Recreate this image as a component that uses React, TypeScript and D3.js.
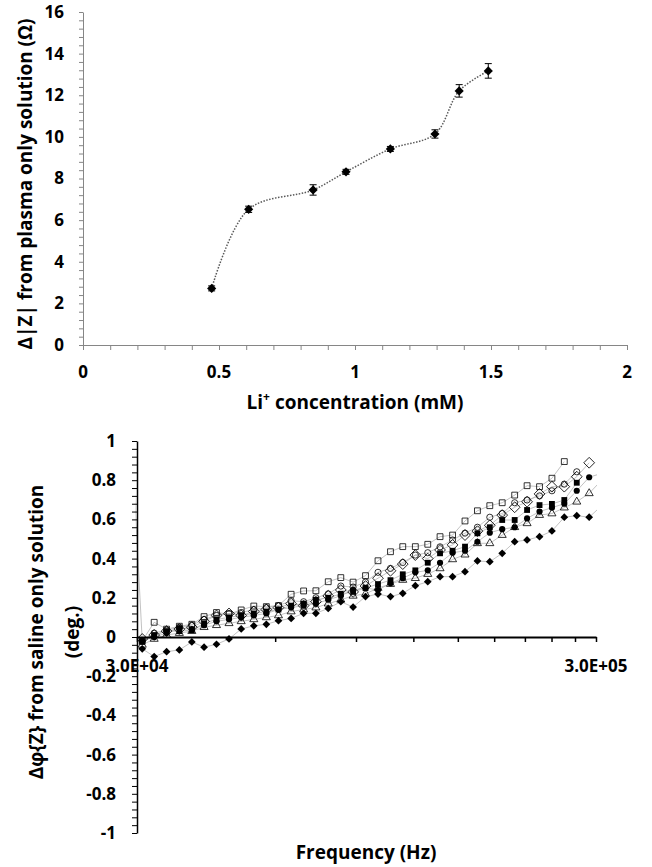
import React, { useEffect, useRef } from 'react';
import * as d3 from 'd3';

// top chart: impedance change vs Li+ concentration
const liConc = [0.473, 0.609, 0.846, 0.967, 1.13, 1.294, 1.383, 1.49];
const deltaZ = [2.72, 6.52, 7.45, 8.32, 9.42, 10.14, 12.21, 13.17];
const deltaZErr = [0.12, 0.15, 0.25, 0.12, 0.12, 0.2, 0.3, 0.35];
const concTicks = [0, 0.5, 1, 1.5, 2];
const zTicks = [0, 2, 4, 6, 8, 10, 12, 14, 16];

// bottom chart: phase change vs frequency (first and last frequency fall outside the axis)
const freqHz = [
  29000, 30800, 32700, 34800, 37100, 39500, 42000, 44700, 47600, 50600, 53900, 57400, 61000,
  65000, 69200, 73600, 78300, 83400, 88700, 94400, 100500, 107000, 113800, 121200, 129000,
  137200, 146100, 155500, 165500, 176100, 187400, 199500, 212300, 226000, 240500, 255900,
  272400, 289900, 308600,
];
const phaseOpenSquare = [
  1.15, -0.02, 0.075, 0.04, 0.055, 0.065, 0.104, 0.125, 0.117, 0.138, 0.158, 0.155, 0.16, 0.218,
  0.235, 0.236, 0.282, 0.303, 0.28, 0.313, 0.389, 0.435, 0.461, 0.461, 0.473, 0.512, 0.52, 0.592,
  0.644, 0.67, 0.685, 0.724, 0.772, 0.767, 0.81, 0.895, null, null, null,
];
const phaseOpenDiamond = [
  null, -0.01, 0.01, 0.03, 0.04, 0.05, 0.08, 0.11, 0.12, 0.11, 0.13, 0.14, 0.15, 0.17, 0.16, 0.18,
  0.21, 0.24, 0.23, 0.26, 0.3, 0.338, 0.372, 0.418, 0.4, 0.444, 0.47, 0.52, 0.54, 0.57, 0.622,
  0.662, 0.69, 0.73, 0.767, 0.767, 0.818, 0.889, null,
];
const phaseOpenCircle = [
  null, -0.02, 0.02, 0.035, 0.05, 0.06, 0.09, 0.11, 0.12, 0.125, 0.14, 0.15, 0.16, 0.185, 0.18,
  0.2, 0.22, 0.26, 0.255, 0.28, 0.33, 0.35, 0.38, 0.418, 0.43, 0.46, 0.495, 0.53, 0.56, 0.611,
  0.63, 0.685, 0.699, 0.72, 0.746, 0.78, 0.843, null, null,
];
const phaseFilledCircle = [
  null, -0.02, 0.0, 0.02, 0.045, 0.04, 0.06, 0.08, 0.09, 0.1, 0.11, 0.12, 0.14, 0.15, 0.16, 0.17,
  0.19, 0.21, 0.24, 0.25, 0.24, 0.274, 0.3, 0.33, 0.34, 0.379, 0.43, 0.44, 0.486, 0.532, 0.55,
  0.56, 0.605, 0.64, 0.66, 0.68, 0.746, 0.815, 0.835,
];
const phaseFilledSquare = [
  null, -0.025, 0.01, 0.03, 0.03, 0.035, 0.07, 0.09, 0.1, 0.11, 0.12, 0.13, 0.14, 0.16, 0.17, 0.19,
  0.2, 0.22, 0.23, 0.25, 0.27, 0.29, 0.32, 0.34, 0.379, 0.427, 0.44, 0.461, 0.529, 0.56, 0.597,
  0.597, 0.648, 0.673, 0.679, 0.699, 0.787, null, null,
];
const phaseOpenTriangle = [
  null, -0.04, -0.01, 0.01, 0.02, 0.03, 0.05, 0.06, 0.07, 0.08, 0.09, 0.1, 0.11, 0.13, 0.14, 0.15,
  0.17, 0.19, 0.21, 0.22, 0.25, 0.27, 0.291, 0.3, 0.321, 0.35, 0.396, 0.42, 0.478, 0.478, 0.52,
  0.56, 0.58, 0.622, 0.63, 0.66, 0.69, 0.733, 0.8,
];
const phaseFilledDiamond = [
  null, -0.06, -0.1, -0.075, -0.066, -0.025, -0.052, -0.037, -0.01, 0.041, 0.057, 0.065, 0.083,
  0.095, 0.121, 0.121, 0.146, 0.18, 0.153, 0.206, 0.219, 0.206, 0.223, 0.262, 0.282, 0.308, 0.308,
  0.333, 0.388, 0.384, 0.427, 0.486, 0.495, 0.512, 0.541, 0.611, 0.619, 0.611, 0.67,
];
const phaseTicks = [-1, -0.8, -0.6, -0.4, -0.2, 0, 0.2, 0.4, 0.6, 0.8, 1];
const freqLabelTicks = [3e4, 3e5];

const FONT = '"Open Sans", sans-serif';
const TICK_SIZE = 17;
const TITLE_SIZE = 19;

type Series = { values: (number | null)[]; shape: 'square' | 'diamond' | 'circle' | 'triangle'; filled: boolean; size: number };

const phaseSeries: Series[] = [
  { values: phaseOpenSquare, shape: 'square', filled: false, size: 34 },
  { values: phaseOpenTriangle, shape: 'triangle', filled: false, size: 28 },
  { values: phaseFilledDiamond, shape: 'diamond', filled: true, size: 30 },
  { values: phaseFilledSquare, shape: 'square', filled: true, size: 34 },
  { values: phaseFilledCircle, shape: 'circle', filled: true, size: 30 },
  { values: phaseOpenCircle, shape: 'circle', filled: false, size: 30 },
  { values: phaseOpenDiamond, shape: 'diamond', filled: false, size: 58 },
];

const App = () => {
  const chartRef = useRef<SVGSVGElement>(null);

  useEffect(() => {
    if (!chartRef.current) return;
    const svg = d3.select(chartRef.current);
    svg.selectAll('*').remove();

    // ---------- top chart ----------
    const x1 = d3.scaleLinear().domain([0, 2]).range([83, 627]);
    const y1 = d3.scaleLinear().domain([0, 16]).range([345, 12]);
    const axisGray = '#868686';

    const top = svg.append('g');
    top
      .append('g')
      .attr('transform', `translate(0,${y1(0)})`)
      .call(
        d3.axisBottom(x1)
          .tickValues(d3.range(0, 21).map((i) => i / 10))
          .tickSize(5)
          .tickSizeOuter(0)
          .tickFormat(() => ''),
      )
      .call((s) => {
        s.select('.domain').attr('stroke', axisGray);
        s.selectAll('line').attr('stroke', axisGray);
      });
    top
      .append('g')
      .attr('transform', `translate(${x1(0)},0)`)
      .call(
        d3.axisLeft(y1)
          .tickValues(d3.range(0, 41).map((i) => i * 0.4))
          .tickSize(4)
          .tickSizeOuter(0)
          .tickFormat(() => ''),
      )
      .call((s) => {
        s.select('.domain').attr('stroke', axisGray);
        s.selectAll('line').attr('stroke', axisGray);
      });

    top
      .selectAll('.xlab')
      .data(concTicks)
      .enter()
      .append('text')
      .attr('x', (d) => x1(d))
      .attr('y', 378)
      .attr('text-anchor', 'middle')
      .attr('font-family', FONT)
      .attr('font-weight', 700)
      .attr('font-size', TICK_SIZE)
      .text((d) => String(d));
    top
      .selectAll('.ylab')
      .data(zTicks)
      .enter()
      .append('text')
      .attr('x', 64)
      .attr('y', (d) => y1(d))
      .attr('dy', '0.35em')
      .attr('text-anchor', 'end')
      .attr('font-family', FONT)
      .attr('font-weight', 700)
      .attr('font-size', TICK_SIZE)
      .text((d) => String(d));

    const pts = liConc.map((c, i) => [x1(c), y1(deltaZ[i])] as [number, number]);
    top
      .append('path')
      .attr('d', d3.line().curve(d3.curveCatmullRom.alpha(0.5))(pts))
      .attr('fill', 'none')
      .attr('stroke', '#595959')
      .attr('stroke-width', 1.5)
      .attr('stroke-dasharray', '1.5 1.5');

    liConc.forEach((c, i) => {
      const cx = x1(c);
      const lo = y1(deltaZ[i] - deltaZErr[i]);
      const hi = y1(deltaZ[i] + deltaZErr[i]);
      top.append('line').attr('x1', cx).attr('x2', cx).attr('y1', lo).attr('y2', hi).attr('stroke', '#000');
      [lo, hi].forEach((yy) =>
        top.append('line').attr('x1', cx - 3.5).attr('x2', cx + 3.5).attr('y1', yy).attr('y2', yy).attr('stroke', '#000'),
      );
    });
    top
      .selectAll('.mk')
      .data(pts)
      .enter()
      .append('path')
      .attr('d', d3.symbol(d3.symbolSquare, 42)())
      .attr('transform', (d) => `translate(${d[0]},${d[1]}) rotate(45)`)
      .attr('fill', '#000');

    top
      .append('text')
      .attr('transform', `translate(32,184) rotate(-90)`)
      .attr('text-anchor', 'middle')
      .attr('font-family', FONT)
      .attr('font-weight', 700)
      .attr('font-size', TITLE_SIZE)
      .text('Δ|Z|  from plasma only solution (Ω)');
    const xTitle = top
      .append('text')
      .attr('x', 355)
      .attr('y', 409)
      .attr('text-anchor', 'middle')
      .attr('font-family', FONT)
      .attr('font-weight', 700)
      .attr('font-size', TITLE_SIZE);
    xTitle.append('tspan').text('Li');
    xTitle.append('tspan').attr('dy', -8).attr('font-size', 12).text('+');
    xTitle.append('tspan').attr('dy', 8).text(' concentration (mM)');

    // ---------- bottom chart ----------
    const x2 = d3.scaleLog().domain([3e4, 3e5]).range([137, 596]);
    const y2 = d3.scaleLinear().domain([-1, 1]).range([833, 441]);
    const bot = svg.append('g');

    bot
      .append('clipPath')
      .attr('id', 'plotclip')
      .append('rect')
      .attr('x', 135.5)
      .attr('y', y2(1))
      .attr('width', 597 - 135.5)
      .attr('height', y2(-1) - y2(1));

    const lines = bot.append('g').attr('clip-path', 'url(#plotclip)');
    const line = d3
      .line<number | null>()
      .defined((d) => d !== null)
      .x((_, i) => x2(freqHz[i]))
      .y((d) => y2(d as number));
    phaseSeries.forEach((s) => {
      lines
        .append('path')
        .attr('d', line(s.values))
        .attr('fill', 'none')
        .attr('stroke', '#b3b3b3')
        .attr('stroke-width', 0.8);
    });

    const shapes = {
      square: d3.symbolSquare,
      diamond: d3.symbolSquare,
      circle: d3.symbolCircle,
      triangle: d3.symbolTriangle,
    };
    phaseSeries.forEach((s) => {
      const inside = s.values
        .map((v, i) => ({ f: freqHz[i], v }))
        .filter((d) => d.v !== null && d.f >= 3e4 && d.f <= 3e5);
      bot
        .append('g')
        .selectAll('path')
        .data(inside)
        .enter()
        .append('path')
        .attr('d', d3.symbol(shapes[s.shape], s.size)())
        .attr(
          'transform',
          (d) => `translate(${x2(d.f)},${y2(d.v as number)})${s.shape === 'diamond' ? ' rotate(45)' : ''}`,
        )
        .attr('fill', s.filled ? '#000' : 'none')
        .attr('stroke', s.filled ? 'none' : '#000')
        .attr('stroke-width', 0.8);
    });

    // y axis
    bot
      .append('g')
      .attr('transform', `translate(${x2(3e4)},0)`)
      .call(
        d3.axisLeft(y2)
          .tickValues(d3.range(0, 51).map((i) => -1 + i * 0.04))
          .tickSize(5)
          .tickSizeOuter(0)
          .tickFormat(() => ''),
      )
      .call((s) => {
        s.select('.domain').attr('stroke', '#000').attr('stroke-width', 1.5);
        s.selectAll('line').attr('stroke', '#000');
      });
    bot
      .selectAll('.ylab2')
      .data(phaseTicks)
      .enter()
      .append('text')
      .attr('x', 116)
      .attr('y', (d) => y2(d))
      .attr('dy', '0.35em')
      .attr('text-anchor', 'end')
      .attr('font-family', FONT)
      .attr('font-weight', 700)
      .attr('font-size', TICK_SIZE)
      .text((d) => String(Math.round(d * 10) / 10));

    // x axis at zero
    bot
      .append('g')
      .attr('transform', `translate(0,${y2(0)})`)
      .call(
        d3.axisBottom(x2)
          .tickValues(d3.range(1, 11).map((k) => 3e4 * k))
          .tickSize(5)
          .tickSizeOuter(0)
          .tickFormat(() => ''),
      )
      .call((s) => {
        s.select('.domain').attr('stroke', '#000').attr('stroke-width', 2);
        s.selectAll('line').attr('stroke', '#000').attr('stroke-width', 1.5);
      });
    const sci = (v: number) => {
      const e = Math.floor(Math.log10(v));
      return `${(v / 10 ** e).toFixed(1)}E+${String(e).padStart(2, '0')}`;
    };
    bot
      .selectAll('.xlab2')
      .data(freqLabelTicks)
      .enter()
      .append('text')
      .attr('x', (d) => x2(d))
      .attr('y', 672)
      .attr('text-anchor', 'middle')
      .attr('font-family', FONT)
      .attr('font-weight', 700)
      .attr('font-size', TICK_SIZE)
      .text((d) => sci(d));

    const yTitle = bot
      .append('text')
      .attr('transform', `translate(0,632) rotate(-90)`)
      .attr('text-anchor', 'middle')
      .attr('font-family', FONT)
      .attr('font-weight', 700)
      .attr('font-size', TITLE_SIZE);
    yTitle.append('tspan').attr('x', 0).attr('y', 43).text('Δφ{Z} from saline only solution');
    yTitle.append('tspan').attr('x', 0).attr('y', 79).text('(deg.)');

    bot
      .append('text')
      .attr('x', 366)
      .attr('y', 859)
      .attr('text-anchor', 'middle')
      .attr('font-family', FONT)
      .attr('font-weight', 700)
      .attr('font-size', TITLE_SIZE)
      .text('Frequency (Hz)');
  }, []);

  return (
    <svg
      ref={chartRef}
      width={652}
      height={867}
      style={{ position: 'absolute', left: 0, top: 0, background: '#fff' }}
    ></svg>
  );
};

export default App;
